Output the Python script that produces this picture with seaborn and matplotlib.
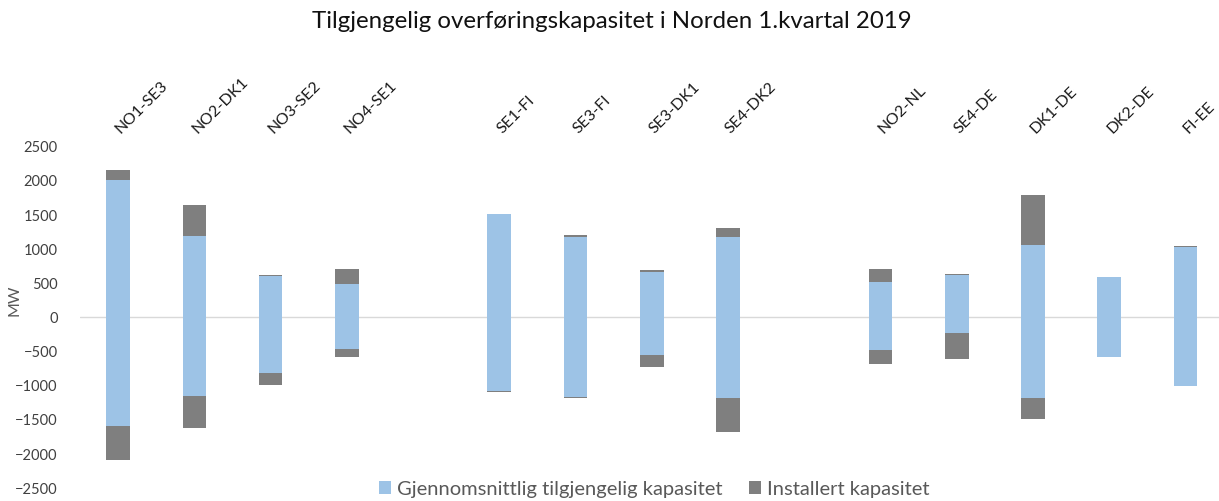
import matplotlib
matplotlib.use("Agg")
import matplotlib.pyplot as plt
from matplotlib.patches import Patch
import seaborn as sns
import pandas as pd

# ---- data (MW) ----
links = ["NO1-SE3", "NO2-DK1", "NO3-SE2", "NO4-SE1",
         "SE1-FI", "SE3-FI", "SE3-DK1", "SE4-DK2",
         "NO2-NL", "SE4-DE", "DK1-DE", "DK2-DE", "FI-EE"]
order = ["NO1-SE3", "NO2-DK1", "NO3-SE2", "NO4-SE1", " ",
         "SE1-FI", "SE3-FI", "SE3-DK1", "SE4-DK2", "  ",
         "NO2-NL", "SE4-DE", "DK1-DE", "DK2-DE", "FI-EE"]
avail_pos = [2000, 1180, 590, 470, 1500, 1170, 650, 1170, 500, 605, 1050, 585, 1010]
avail_neg = [-1600, -1170, -820, -470, -1090, -1180, -560, -1200, -490, -235, -1190, -595, -1010]
inst_pos = [2140, 1625, 605, 700, 1500, 1190, 680, 1295, 700, 620, 1775, 585, 1035]
inst_neg = [-2095, -1630, -1000, -595, -1100, -1200, -735, -1695, -700, -615, -1500, -600, -1015]

title = "Tilgjengelig overføringskapasitet i Norden 1.kvartal 2019"
lab_avail = "Gjennomsnittlig tilgjengelig kapasitet"
lab_inst = "Installert kapasitet"

df = pd.DataFrame({"link": links, "avail_pos": avail_pos, "avail_neg": avail_neg,
                   "inst_pos": inst_pos, "inst_neg": inst_neg})

BLUE = "#9DC3E6"
GREY = "#7F7F7F"

sns.set_theme(style="white")
plt.rcParams["font.family"] = ["Lato", "DejaVu Sans"]

W, H = 1219, 502
fig = plt.figure(figsize=(W / 100, H / 100), dpi=100)
ax_left, ax_right = 80, 1219
ax_top, ax_bot = 146.7, 488.3
ax = fig.add_axes([ax_left / W, 1 - ax_bot / H, (ax_right - ax_left) / W, (ax_bot - ax_top) / H])

ax.axhline(0, color="#D9D9D9", lw=1, zorder=0)

for col, colr in [("inst_pos", GREY), ("inst_neg", GREY), ("avail_pos", BLUE), ("avail_neg", BLUE)]:
    sns.barplot(data=df, x="link", y=col, order=order, color=colr, saturation=1,
                width=0.31, errorbar=None, ax=ax, linewidth=0)

ax.set_xlim(-0.5, 14.44)
ax.set_ylim(-2500, 2500)
ax.set_yticks(range(-2500, 2501, 500))
ax.tick_params(axis="y", length=0, pad=16, labelsize=10.5, labelcolor="#404040")
for s in ax.spines.values():
    s.set_visible(False)

ax.xaxis.tick_top()
ax.tick_params(axis="x", length=0, pad=11, labelsize=11.5, labelcolor="#1a1a1a")
for t in ax.get_xticklabels():
    t.set_rotation(45)
    t.set_rotation_mode("anchor")
    t.set_ha("left")
    t.set_va("center")
ax.set_xlabel("")
ax.set_ylabel("MW", fontsize=11.5, color="#595959")
ax.yaxis.set_label_coords((22 - ax_left) / (ax_right - ax_left), (ax_bot - 300) / (ax_bot - ax_top))

fig.text(0.502, 1 - 22 / H, title, ha="center", va="center", fontsize=17.3, color="#111111")

handles = [Patch(facecolor=BLUE, edgecolor="none"), Patch(facecolor=GREY, edgecolor="none")]
fig.legend(handles, [lab_avail, lab_inst], loc="center", bbox_to_anchor=(654 / W, 1 - 490 / H),
           ncol=2, frameon=False, handlelength=0.6, handleheight=0.6, handletextpad=0.3,
           columnspacing=1.3, fontsize=14.5, labelcolor="#595959")

fig.savefig("out.png", dpi=100)
